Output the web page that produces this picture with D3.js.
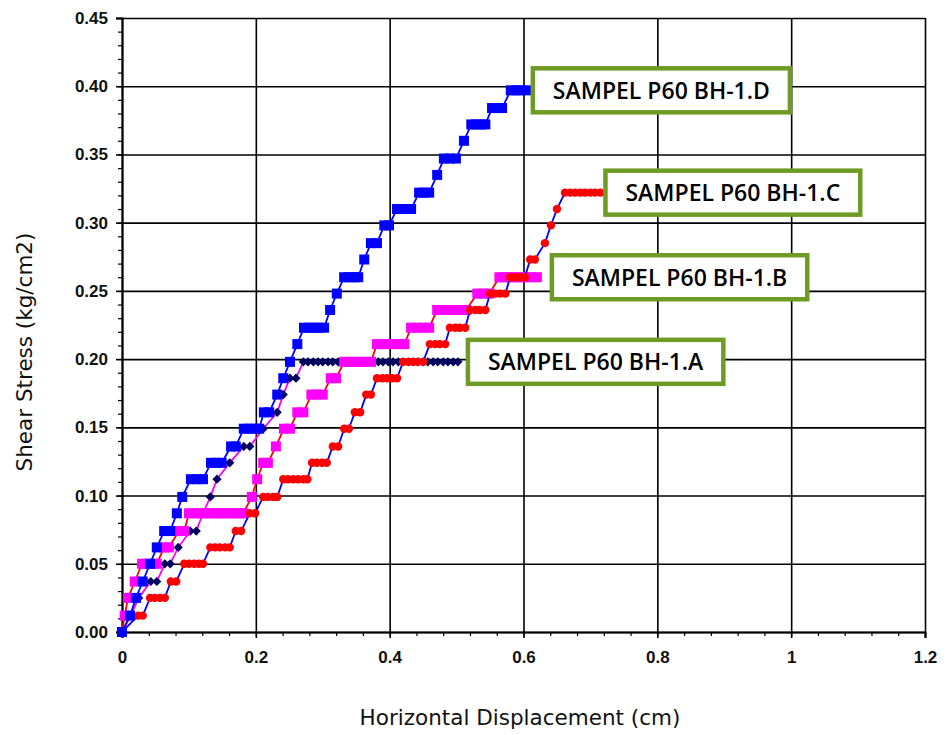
<!DOCTYPE html>
<html>
<head>
<meta charset="utf-8">
<script src="https://cdn.jsdelivr.net/npm/d3@7"></script>
<style>
  body { margin: 0; background: #fff; }
</style>
</head>
<body>
<div id="chart"></div>
<script>
// series names (legend boxes)
var seriesNames = ["SAMPEL P60 BH-1.A", "SAMPEL P60 BH-1.B", "SAMPEL P60 BH-1.C", "SAMPEL P60 BH-1.D"];

// A - horizontal displacement (cm) / shear stress (kg/cm2)
var dispA = [0, 0.013, 0.025, 0.043, 0.052, 0.064, 0.072, 0.084, 0.102, 0.111, 0.121, 0.132, 0.142, 0.161, 0.182, 0.191, 0.211, 0.232, 0.241, 0.251, 0.260,
  0.271, 0.278, 0.286, 0.293, 0.300, 0.308, 0.315, 0.323, 0.330, 0.338, 0.345, 0.353, 0.360, 0.368, 0.375, 0.383,
  0.390, 0.398, 0.405, 0.413, 0.420, 0.428, 0.435, 0.442, 0.450, 0.457, 0.465, 0.472, 0.480, 0.487, 0.495, 0.502];
var stressA = [0, 0.012, 0.025, 0.037, 0.037, 0.050, 0.050, 0.062, 0.074, 0.074, 0.087, 0.099, 0.112, 0.124, 0.136, 0.136, 0.149, 0.161, 0.174, 0.186, 0.186,
  0.198, 0.198, 0.198, 0.198, 0.198, 0.198, 0.198, 0.198, 0.198, 0.198, 0.198, 0.198, 0.198, 0.198, 0.198, 0.198,
  0.198, 0.198, 0.198, 0.198, 0.198, 0.198, 0.198, 0.198, 0.198, 0.198, 0.198, 0.198, 0.198, 0.198, 0.198, 0.198];

// B
var dispB = [0, 0.004, 0.009, 0.019, 0.030, 0.037, 0.045, 0.052, 0.063, 0.070, 0.085, 0.093,
  0.100, 0.108, 0.115, 0.123, 0.130, 0.138, 0.145, 0.152, 0.160, 0.167, 0.175, 0.181,
  0.194, 0.202, 0.211, 0.218, 0.230, 0.242, 0.251, 0.262, 0.271, 0.283, 0.291, 0.300, 0.312, 0.320,
  0.332, 0.339, 0.348, 0.356, 0.363, 0.372, 0.381, 0.389, 0.398, 0.405, 0.413, 0.422,
  0.432, 0.441, 0.450, 0.459, 0.471, 0.478, 0.486, 0.493, 0.501, 0.508, 0.514,
  0.531, 0.540, 0.549, 0.564, 0.571, 0.580, 0.587, 0.595, 0.602, 0.611, 0.620];
var stressB = [0, 0.012, 0.025, 0.037, 0.050, 0.050, 0.050, 0.050, 0.062, 0.062, 0.074, 0.074,
  0.087, 0.087, 0.087, 0.087, 0.087, 0.087, 0.087, 0.087, 0.087, 0.087, 0.087, 0.087,
  0.099, 0.112, 0.124, 0.124, 0.136, 0.149, 0.149, 0.161, 0.161, 0.174, 0.174, 0.174, 0.186, 0.186,
  0.198, 0.198, 0.198, 0.198, 0.198, 0.198, 0.211, 0.211, 0.211, 0.211, 0.211, 0.211,
  0.223, 0.223, 0.223, 0.223, 0.236, 0.236, 0.236, 0.236, 0.236, 0.236, 0.236,
  0.248, 0.248, 0.248, 0.260, 0.260, 0.260, 0.260, 0.260, 0.260, 0.260, 0.260];

// C
var dispC = [0, 0.024, 0.031, 0.042, 0.049, 0.057, 0.064, 0.073, 0.081, 0.093, 0.100, 0.108, 0.115, 0.121,
  0.132, 0.139, 0.146, 0.154, 0.161, 0.170, 0.178, 0.191, 0.199, 0.211, 0.218, 0.226, 0.232,
  0.241, 0.248, 0.256, 0.263, 0.271, 0.277, 0.284, 0.291, 0.299, 0.306, 0.315, 0.323, 0.332, 0.339,
  0.348, 0.356, 0.365, 0.372, 0.381, 0.389, 0.396, 0.404, 0.411, 0.420, 0.428, 0.435, 0.442, 0.450,
  0.460, 0.468, 0.475, 0.483, 0.490, 0.498, 0.505, 0.513, 0.520, 0.528, 0.535, 0.543,
  0.550, 0.558, 0.565, 0.573, 0.580, 0.587, 0.595, 0.602, 0.610, 0.617, 0.632, 0.641, 0.650,
  0.662, 0.670, 0.677, 0.685, 0.692, 0.700, 0.707, 0.715];
var stressC = [0, 0.012, 0.012, 0.025, 0.025, 0.025, 0.025, 0.037, 0.037, 0.050, 0.050, 0.050, 0.050, 0.050,
  0.062, 0.062, 0.062, 0.062, 0.062, 0.074, 0.074, 0.087, 0.087, 0.099, 0.099, 0.099, 0.099,
  0.112, 0.112, 0.112, 0.112, 0.112, 0.112, 0.124, 0.124, 0.124, 0.124, 0.136, 0.136, 0.149, 0.149,
  0.161, 0.161, 0.174, 0.174, 0.186, 0.186, 0.186, 0.186, 0.186, 0.198, 0.198, 0.198, 0.198, 0.198,
  0.211, 0.211, 0.211, 0.211, 0.223, 0.223, 0.223, 0.223, 0.236, 0.236, 0.236, 0.236,
  0.248, 0.248, 0.248, 0.248, 0.260, 0.260, 0.260, 0.260, 0.273, 0.273, 0.285, 0.298, 0.310,
  0.322, 0.322, 0.322, 0.322, 0.322, 0.322, 0.322, 0.322];

// D
var dispD = [0, 0.012, 0.021, 0.031, 0.042, 0.052, 0.063, 0.072, 0.082, 0.090, 0.103, 0.112, 0.121,
  0.133, 0.141, 0.149, 0.163, 0.170, 0.182, 0.190, 0.197, 0.205, 0.212, 0.220, 0.232, 0.241, 0.251, 0.262,
  0.272, 0.280, 0.287, 0.294, 0.302, 0.311, 0.321, 0.332, 0.339, 0.347, 0.353, 0.362, 0.372, 0.381,
  0.392, 0.399, 0.411, 0.419, 0.426, 0.432, 0.444, 0.451, 0.459, 0.471, 0.481, 0.490, 0.499, 0.511,
  0.522, 0.529, 0.537, 0.543, 0.553, 0.561, 0.568, 0.581, 0.589, 0.596, 0.605];
var stressD = [0, 0.012, 0.025, 0.037, 0.050, 0.062, 0.074, 0.074, 0.087, 0.099, 0.112, 0.112, 0.112,
  0.124, 0.124, 0.124, 0.136, 0.136, 0.149, 0.149, 0.149, 0.149, 0.161, 0.161, 0.174, 0.186, 0.198, 0.211,
  0.223, 0.223, 0.223, 0.223, 0.223, 0.236, 0.248, 0.260, 0.260, 0.260, 0.260, 0.273, 0.285, 0.285,
  0.298, 0.298, 0.310, 0.310, 0.310, 0.310, 0.322, 0.322, 0.322, 0.335, 0.347, 0.347, 0.347, 0.360,
  0.372, 0.372, 0.372, 0.372, 0.384, 0.384, 0.384, 0.397, 0.397, 0.397, 0.397];

// axis ticks
var xTickValues = [0, 0.2, 0.4, 0.6, 0.8, 1, 1.2];
var xTickLabels = ["0", "0.2", "0.4", "0.6", "0.8", "1", "1.2"];
var yTickValues = [0, 0.05, 0.10, 0.15, 0.20, 0.25, 0.30, 0.35, 0.40, 0.45];
var yTickLabels = ["0.00", "0.05", "0.10", "0.15", "0.20", "0.25", "0.30", "0.35", "0.40", "0.45"];

function drawChart() {

  var svgWidth = 948;
  var svgHeight = 735;

  var margin = { top: 18, right: 23, bottom: 103, left: 122 };

  var width = svgWidth - margin.left - margin.right;
  var height = svgHeight - margin.top - margin.bottom;

  var svg = d3.select("#chart")
    .append("svg")
    .attr("width", svgWidth)
    .attr("height", svgHeight);

  var chartGroup = svg.append("g")
    .attr("transform", `translate(${margin.left}, ${margin.top})`);

  var xScale = d3.scaleLinear().domain([0, 1.2]).range([0, width]);
  var yScale = d3.scaleLinear().domain([0, 0.45]).range([height, 0]);

  // grid lines
  chartGroup.append("g")
    .attr("class", "grid")
    .call(d3.axisLeft(yScale).tickValues(yTickValues).tickSize(-width).tickFormat(""))
    .call(g => g.select(".domain").remove())
    .selectAll("line")
    .attr("stroke", "#000")
    .attr("stroke-width", 1.6);

  chartGroup.append("g")
    .attr("class", "grid")
    .attr("transform", `translate(0, ${height})`)
    .call(d3.axisBottom(xScale).tickValues(xTickValues).tickSize(-height).tickFormat(""))
    .call(g => g.select(".domain").remove())
    .selectAll("line")
    .attr("stroke", "#000")
    .attr("stroke-width", 1.6);

  // minor ticks
  var yMinor = d3.range(0, 0.451, 0.01);
  var xMinor = d3.range(0, 1.201, 0.04);

  chartGroup.append("g")
    .call(d3.axisLeft(yScale).tickValues(yMinor).tickSize(4).tickFormat(""))
    .call(g => g.select(".domain").remove())
    .selectAll("line").attr("stroke", "#000").attr("stroke-width", 1.2);

  chartGroup.append("g")
    .attr("transform", `translate(0, ${height})`)
    .call(d3.axisBottom(xScale).tickValues(xMinor).tickSize(4).tickFormat(""))
    .call(g => g.select(".domain").remove())
    .selectAll("line").attr("stroke", "#000").attr("stroke-width", 1.2);

  // main axes
  var yAxis = chartGroup.append("g")
    .call(d3.axisLeft(yScale).tickValues(yTickValues).tickSize(6).tickPadding(8)
      .tickFormat((d, i) => yTickLabels[i]));

  var xAxis = chartGroup.append("g")
    .attr("transform", `translate(0, ${height})`)
    .call(d3.axisBottom(xScale).tickValues(xTickValues).tickSize(6).tickPadding(13)
      .tickFormat((d, i) => xTickLabels[i]));

  [yAxis, xAxis].forEach(function(ax) {
    ax.select(".domain").attr("stroke", "#000").attr("stroke-width", 2);
    ax.selectAll("line").attr("stroke", "#000").attr("stroke-width", 1.6);
    ax.selectAll("text")
      .attr("font-family", "Liberation Sans, Arial, sans-serif")
      .attr("font-weight", "bold")
      .attr("font-size", "17px")
      .attr("fill", "#111");
  });

  // series
  var series = [
    { x: dispA, y: stressA, line: "#ff00ff", fill: "#00005e", shape: "diamond" },
    { x: dispB, y: stressB, line: "#ff0000", fill: "#ff00ff", shape: "square" },
    { x: dispC, y: stressC, line: "#0000ff", fill: "#ff0000", shape: "circle" },
    { x: dispD, y: stressD, line: "#0000ff", fill: "#0000ff", shape: "square" }
  ];

  var lineGen = d3.line()
    .x(d => xScale(d[0]))
    .y(d => yScale(d[1]));

  series.forEach(function(s) {
    var pts = s.x.map((v, i) => [v, s.y[i]]);

    chartGroup.append("path")
      .datum(pts)
      .attr("d", lineGen)
      .attr("fill", "none")
      .attr("stroke", s.line)
      .attr("stroke-width", 1.8);

    var marks = chartGroup.append("g");
    if (s.shape == "circle") {
      marks.selectAll("circle")
        .data(pts)
        .enter()
        .append("circle")
        .attr("cx", d => xScale(d[0]))
        .attr("cy", d => yScale(d[1]))
        .attr("r", 4.2)
        .attr("fill", s.fill);
    } else if (s.shape == "square") {
      marks.selectAll("rect")
        .data(pts)
        .enter()
        .append("rect")
        .attr("x", d => xScale(d[0]) - 5)
        .attr("y", d => yScale(d[1]) - 5)
        .attr("width", 10)
        .attr("height", 10)
        .attr("fill", s.fill);
    } else {
      marks.selectAll("path")
        .data(pts)
        .enter()
        .append("path")
        .attr("transform", d => `translate(${xScale(d[0])}, ${yScale(d[1])})`)
        .attr("d", "M0,-4.6L4.6,0L0,4.6L-4.6,0Z")
        .attr("fill", s.fill);
    }
  });

  // label boxes next to the end of each curve
  var boxGap = [10, 15, 5, 6];
  series.forEach(function(s, i) {
    var last = s.x.length - 1;
    var bx = xScale(s.x[last]) + boxGap[i];
    var by = yScale(s.y[last]);

    var box = chartGroup.append("g");
    var rect = box.append("rect")
      .attr("fill", "#fff")
      .attr("stroke", "#6e9b24")
      .attr("stroke-width", 4.5);

    var txt = box.append("text")
      .attr("x", bx + 20)
      .attr("y", by)
      .attr("dy", "0.36em")
      .attr("font-family", "Open Sans, sans-serif")
      .attr("font-weight", 600)
      .attr("font-size", "23px")
      .attr("fill", "#000")
      .text(seriesNames[i]);

    var tw = txt.node().getComputedTextLength();
    rect.attr("x", bx)
      .attr("y", by - 22)
      .attr("width", tw + 40)
      .attr("height", 44);
  });

  // axis titles
  svg.append("text")
    .attr("transform", "translate(32, 352) rotate(-90)")
    .attr("text-anchor", "middle")
    .attr("font-family", "DejaVu Sans, sans-serif")
    .attr("font-size", "21.5px")
    .attr("fill", "#111")
    .text("Shear Stress (kg/cm2)");

  svg.append("text")
    .attr("x", 520)
    .attr("y", 725)
    .attr("text-anchor", "middle")
    .attr("font-family", "DejaVu Sans, sans-serif")
    .attr("font-size", "21.5px")
    .attr("fill", "#111")
    .text("Horizontal Displacement  (cm)");
}

drawChart();
</script>
</body>
</html>
